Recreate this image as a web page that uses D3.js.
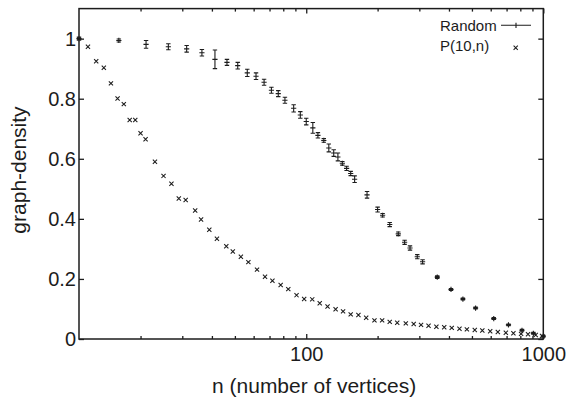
<!DOCTYPE html>
<html><head><meta charset="utf-8">
<script src="https://cdn.jsdelivr.net/npm/d3@7"></script>
<style>
html,body{margin:0;padding:0;background:#fff;}
svg{display:block;font-family:"Liberation Sans",Arial,Helvetica,sans-serif;}
</style></head>
<body><svg id="chart" width="574" height="400"></svg>
<script>
// ---- data ----
const randomN = [11,16.2,21.1,26.2,31.3,36.3,41.2,46.3,51.4,56.4,61.4,66.4,71.3,76.2,81.3,88.5,94.4,100,106.6,112,118.6,124.5,130.6,136,142,148,154,160,180.5,200,210,225,244.5,260,274,294,309.6,357,408,458,518,618,713,813,908,1000];
const randomV = [1.0,0.994,0.981,0.973,0.966,0.953,0.931,0.921,0.910,0.886,0.875,0.855,0.828,0.817,0.795,0.768,0.746,0.724,0.703,0.678,0.661,0.636,0.619,0.606,0.585,0.568,0.551,0.532,0.480,0.431,0.412,0.381,0.350,0.322,0.303,0.274,0.257,0.206,0.165,0.133,0.103,0.068,0.047,0.029,0.019,0.009];
const randomErr = [0.002,0.005,0.013,0.010,0.011,0.011,0.031,0.010,0.011,0.012,0.011,0.010,0.010,0.010,0.010,0.012,0.011,0.011,0.018,0.009,0.006,0.013,0.011,0.013,0.006,0.007,0.007,0.011,0.011,0.008,0.006,0.007,0.006,0.007,0.007,0.007,0.007,0.004,0.003,0.003,0.003,0.003,0.003,0.003,0.003,0.003];
const pN = [11,12,13,14,15,16,17,18,19,20,21,23,25,27,29,31,34,36,39,42,46,49,53,57,62,67,72,78,84,91,98,106,114,123,133,143,154,166,179,194,209,225,242,263,284,305,328,354,382,411,443,476,514,553,597,643,695,748,806,862,929,988];
const pV = [1.0,0.973,0.925,0.903,0.851,0.801,0.782,0.729,0.729,0.685,0.665,0.590,0.543,0.517,0.468,0.463,0.428,0.398,0.364,0.334,0.309,0.291,0.274,0.256,0.231,0.207,0.194,0.180,0.166,0.146,0.133,0.132,0.119,0.108,0.099,0.092,0.082,0.080,0.071,0.062,0.062,0.057,0.054,0.052,0.050,0.047,0.044,0.041,0.039,0.037,0.034,0.032,0.030,0.028,0.026,0.023,0.021,0.019,0.017,0.016,0.013,0.010];
const xMajor = [100,1000];
const xMinor = [20,30,40,50,60,70,80,90,200,300,400,500,600,700,800,900];
const yTicks = [0,0.2,0.4,0.6,0.8,1];
const seriesNames = ["Random","P(10,n)"];
const xTitle = "n (number of vertices)";
const yTitle = "graph-density";

// ---- layout ----
const L = 79, R = 543.3, T = 8.6, B = 339;
const ink = "#1c1c1c";
const svg = d3.select("#chart");
const x = d3.scaleLog().domain([11,1000]).range([L,R]);
const y = d3.scaleLinear().domain([0,1.1]).range([B,T]);

// bottom axis major
const gB = svg.append("g").attr("transform",`translate(0,${B})`)
  .call(d3.axisBottom(x).tickValues(xMajor).tickFormat(d3.format("d")).tickSizeInner(-5).tickSizeOuter(0).tickPadding(8));
gB.selectAll("text").attr("font-size",20).attr("fill",ink).attr("dy","0.72em");
// bottom minor
svg.append("g").attr("transform",`translate(0,${B})`)
  .call(d3.axisBottom(x).tickValues(xMinor).tickFormat("").tickSizeInner(-3).tickSizeOuter(0));
// top major/minor
svg.append("g").attr("transform",`translate(0,${T})`)
  .call(d3.axisTop(x).tickValues(xMajor).tickFormat("").tickSizeInner(-5).tickSizeOuter(0));
svg.append("g").attr("transform",`translate(0,${T})`)
  .call(d3.axisTop(x).tickValues(xMinor).tickFormat("").tickSizeInner(-3).tickSizeOuter(0));
// left
const gL = svg.append("g").attr("transform",`translate(${L},0)`)
  .call(d3.axisLeft(y).tickValues(yTicks).tickFormat(d => d===0||d===1 ? String(d) : d3.format(".1f")(d)).tickSizeInner(-5).tickSizeOuter(0).tickPadding(3));
gL.selectAll("text").attr("font-size",20).attr("fill",ink);
// right
svg.append("g").attr("transform",`translate(${R},0)`)
  .call(d3.axisRight(y).tickValues(yTicks).tickFormat("").tickSizeInner(-5).tickSizeOuter(0));
svg.selectAll(".domain").remove();
svg.selectAll(".tick line").attr("stroke",ink).attr("stroke-width",1.3);

// border
svg.append("rect").attr("x",L).attr("y",T).attr("width",R-L).attr("height",B-T)
  .attr("fill","none").attr("stroke",ink).attr("stroke-width",1.5);

// titles
svg.append("text").attr("x",(L+R)/2+3).attr("y",393).attr("text-anchor","middle")
  .attr("font-size",21).attr("fill",ink).text(xTitle);
svg.append("text").attr("transform","translate(26,170) rotate(-90)").attr("text-anchor","middle")
  .attr("font-size",21).attr("fill",ink).text(yTitle);

// Random series with error bars
const rnd = randomN.map((n,i)=>({n, v: randomV[i], e: randomErr[i]}));
const gR = svg.append("g").attr("stroke",ink).attr("stroke-width",1.1).attr("fill","none");
const cap = 2.2, plus = 2.6;
rnd.forEach(d => {
  const cx = x(d.n), cy = y(d.v), y1 = y(d.v + d.e), y2 = y(d.v - d.e);
  const p = d3.path();
  p.moveTo(cx, y1); p.lineTo(cx, y2);
  p.moveTo(cx-cap, y1); p.lineTo(cx+cap, y1);
  p.moveTo(cx-cap, y2); p.lineTo(cx+cap, y2);
  p.moveTo(cx-plus, cy); p.lineTo(cx+plus, cy);
  p.moveTo(cx, cy-plus); p.lineTo(cx, cy+plus);
  gR.append("path").attr("d", p.toString());
});

// P(10,n) series as x markers
const gP = svg.append("g").attr("stroke",ink).attr("stroke-width",1.05).attr("fill","none");
const xs = 2.1;
pN.forEach((n,i) => {
  const cx = x(n), cy = y(pV[i]);
  const p = d3.path();
  p.moveTo(cx-xs, cy-xs); p.lineTo(cx+xs, cy+xs);
  p.moveTo(cx-xs, cy+xs); p.lineTo(cx+xs, cy-xs);
  gP.append("path").attr("d", p.toString());
});

// legend
const lg = svg.append("g");
lg.append("text").attr("x",440).attr("y",30.5).attr("font-size",15).attr("fill",ink).text(seriesNames[0]);
lg.append("text").attr("x",440).attr("y",51).attr("font-size",15).attr("fill",ink).text(seriesNames[1]);
lg.append("path").attr("d",`M501,25.3H531M516,22.7V27.9`).attr("stroke",ink).attr("stroke-width",1.1);
lg.append("path").attr("d",`M${515.7-xs},${47.7-xs}L${515.7+xs},${47.7+xs}M${515.7-xs},${47.7+xs}L${515.7+xs},${47.7-xs}`)
  .attr("stroke",ink).attr("stroke-width",1.05);
</script></body></html>
